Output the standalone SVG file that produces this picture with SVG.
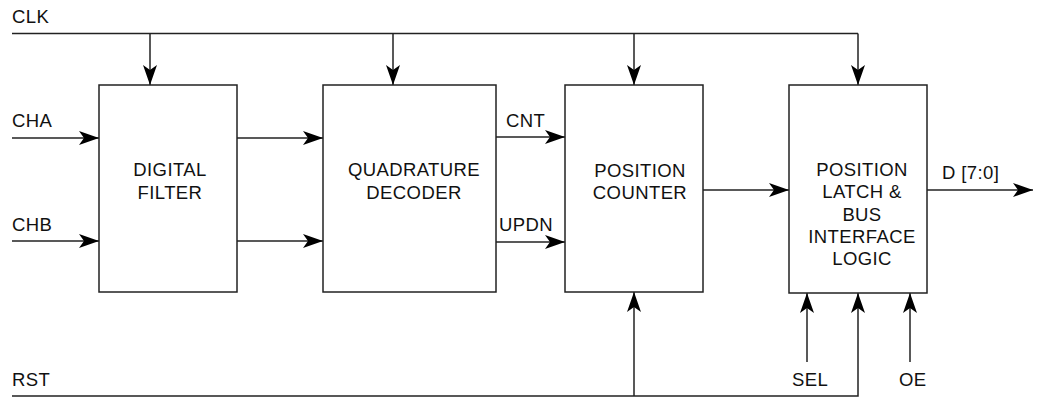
<svg xmlns="http://www.w3.org/2000/svg" width="1041" height="397" viewBox="0 0 1041 397">
<style>
.box{fill:#fff;stroke:#222;stroke-width:1.5}
.w{fill:none;stroke:#222;stroke-width:1.5}
text{font-family:"Liberation Sans",Arial,sans-serif;font-size:18.5px;letter-spacing:0.4px;fill:#111}
.c{text-anchor:middle}
</style>
<defs>
<marker id="ah" markerUnits="userSpaceOnUse" viewBox="0 0 20 14" refX="20" refY="7" markerWidth="20" markerHeight="14" orient="auto">
<path d="M0,0 L20,7 L0,14 L5,7 Z" fill="#000"/>
</marker>
</defs>
<g id="connectors">
<path class="w" d="M12,33.5 H858"/>
<path class="w" d="M150,33.5 V85" marker-end="url(#ah)"/>
<path class="w" d="M393,33.5 V85" marker-end="url(#ah)"/>
<path class="w" d="M634,33.5 V85" marker-end="url(#ah)"/>
<path class="w" d="M858,33.5 V85" marker-end="url(#ah)"/>
<path class="w" d="M12,138 H99" marker-end="url(#ah)"/>
<path class="w" d="M12,241 H99" marker-end="url(#ah)"/>
<path class="w" d="M237,138 H323" marker-end="url(#ah)"/>
<path class="w" d="M237,241 H323" marker-end="url(#ah)"/>
<path class="w" d="M496,137 H565" marker-end="url(#ah)"/>
<path class="w" d="M496,242 H565" marker-end="url(#ah)"/>
<path class="w" d="M703,190 H789" marker-end="url(#ah)"/>
<path class="w" d="M927,190 H1033" marker-end="url(#ah)"/>
<path class="w" d="M12,396 H858 V293" marker-end="url(#ah)"/>
<path class="w" d="M634,396 V292" marker-end="url(#ah)"/>
<path class="w" d="M807,362 V293" marker-end="url(#ah)"/>
<path class="w" d="M910,362 V293" marker-end="url(#ah)"/>
<text x="12" y="23">CLK</text>
<text x="12" y="127">CHA</text>
<text x="12" y="231">CHB</text>
<text x="506" y="127">CNT</text>
<text x="499" y="231">UPDN</text>
<text x="942" y="179">D [7:0]</text>
<text x="12" y="386">RST</text>
<text x="792" y="386">SEL</text>
<text x="899" y="386">OE</text>
</g>
<g id="filter">
<rect class="box" x="99" y="85" width="138" height="207"/>
<text class="c" x="170" y="176">DIGITAL</text>
<text class="c" x="170" y="199">FILTER</text>
</g>
<g id="decoder">
<rect class="box" x="323" y="85" width="173" height="207"/>
<text class="c" x="414" y="176">QUADRATURE</text>
<text class="c" x="414" y="199">DECODER</text>
</g>
<g id="counter">
<rect class="box" x="565" y="85" width="138" height="207"/>
<text class="c" x="640" y="177">POSITION</text>
<text class="c" x="640" y="199">COUNTER</text>
</g>
<g id="latch">
<rect class="box" x="789" y="85" width="138" height="208"/>
<text class="c" x="862" y="176">POSITION</text>
<text class="c" x="862" y="198">LATCH &amp;</text>
<text class="c" x="862" y="221">BUS</text>
<text class="c" x="862" y="243">INTERFACE</text>
<text class="c" x="862" y="265">LOGIC</text>
</g>
</svg>
